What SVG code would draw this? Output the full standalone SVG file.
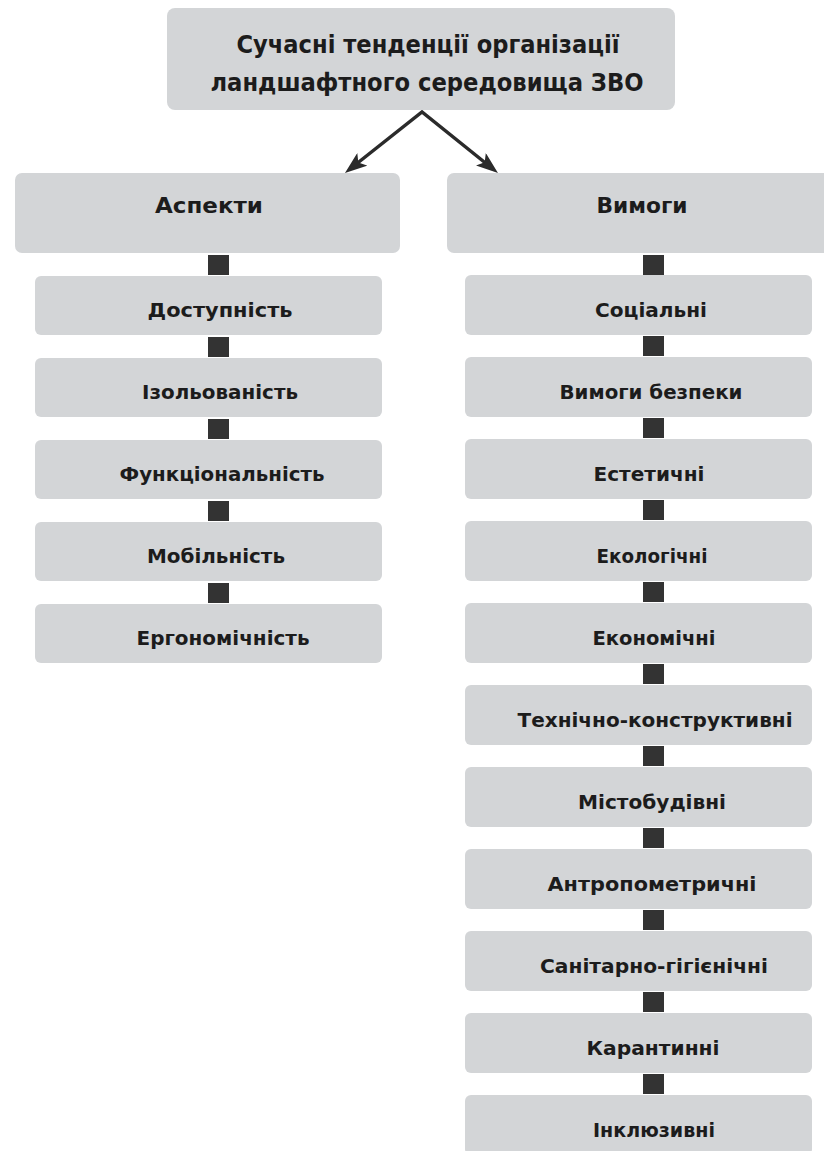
<svg xmlns="http://www.w3.org/2000/svg" width="824" height="1151" viewBox="0 0 824 1151">
<style>
.box{fill:#d3d5d7;}
.t{font-family:"DejaVu Sans","Liberation Sans",sans-serif;font-weight:bold;fill:#1c1c1c;text-anchor:middle;}
.top{font-size:24px;}
.hd{font-size:22px;}
.ch{font-size:19px;}
.sq{fill:#333333;}
.arrow{fill:none;stroke:#2b2b2b;stroke-width:3.5;stroke-linejoin:miter;}
</style>
<defs>
<marker id="ah" viewBox="0 0 22 16" refX="10" refY="8" markerWidth="22" markerHeight="16" orient="auto-start-reverse" markerUnits="userSpaceOnUse">
<path d="M0,0 L22,8 L0,16 L5,8 z" fill="#2b2b2b"/>
</marker>
</defs>
<rect width="824" height="1151" fill="#ffffff"/>

<g id="connectors">
<path class="arrow" d="M354.4,165.5 L422,112 L488.6,165.5" marker-start="url(#ah)" marker-end="url(#ah)"/>
<rect class="sq" x="208" y="255" width="21" height="20"/>
<rect class="sq" x="208" y="337" width="21" height="20"/>
<rect class="sq" x="208" y="419" width="21" height="20"/>
<rect class="sq" x="208" y="501" width="21" height="20"/>
<rect class="sq" x="208" y="583" width="21" height="20"/>
<rect class="sq" x="643" y="255" width="21" height="20"/>
<rect class="sq" x="643" y="336" width="21" height="20"/>
<rect class="sq" x="643" y="418" width="21" height="20"/>
<rect class="sq" x="643" y="500" width="21" height="20"/>
<rect class="sq" x="643" y="582" width="21" height="20"/>
<rect class="sq" x="643" y="664" width="21" height="20"/>
<rect class="sq" x="643" y="746" width="21" height="20"/>
<rect class="sq" x="643" y="828" width="21" height="20"/>
<rect class="sq" x="643" y="910" width="21" height="20"/>
<rect class="sq" x="643" y="992" width="21" height="20"/>
<rect class="sq" x="643" y="1074" width="21" height="20"/>
</g>

<g id="root">
<rect class="box" x="167" y="8" width="508" height="102" rx="8"/>
<text class="t top" x="428" y="53" textLength="383" lengthAdjust="spacingAndGlyphs">Сучасні тенденції організації</text>
<text class="t top" x="427" y="91" textLength="433" lengthAdjust="spacingAndGlyphs">ландшафтного середовища ЗВО</text>
</g>

<g id="aspekty">
<rect class="box" x="15" y="173" width="385" height="80" rx="7"/>
<text class="t hd" x="209" y="213" textLength="108" lengthAdjust="spacingAndGlyphs">Аспекти</text>
</g>
<g id="vymohy">
<rect class="box" x="447" y="173" width="390" height="80" rx="7"/>
<text class="t hd" x="642" y="213" textLength="91" lengthAdjust="spacingAndGlyphs">Вимоги</text>
</g>

<g id="dostupnist">
<rect class="box" x="35" y="276" width="347" height="59" rx="6"/>
<text class="t ch" x="220" y="317" textLength="145" lengthAdjust="spacingAndGlyphs">Доступність</text>
</g>
<g id="izolovanist">
<rect class="box" x="35" y="358" width="347" height="59" rx="6"/>
<text class="t ch" x="220" y="399" textLength="156" lengthAdjust="spacingAndGlyphs">Ізольованість</text>
</g>
<g id="funktsionalnist">
<rect class="box" x="35" y="440" width="347" height="59" rx="6"/>
<text class="t ch" x="222" y="481" textLength="205" lengthAdjust="spacingAndGlyphs">Функціональність</text>
</g>
<g id="mobilnist">
<rect class="box" x="35" y="522" width="347" height="59" rx="6"/>
<text class="t ch" x="216" y="563" textLength="138" lengthAdjust="spacingAndGlyphs">Мобільність</text>
</g>
<g id="erhonomichnist">
<rect class="box" x="35" y="604" width="347" height="59" rx="6"/>
<text class="t ch" x="223" y="645" textLength="173" lengthAdjust="spacingAndGlyphs">Ергономічність</text>
</g>

<g id="sotsialni">
<rect class="box" x="465" y="275" width="347" height="60" rx="6"/>
<text class="t ch" x="651" y="317" textLength="112" lengthAdjust="spacingAndGlyphs">Соціальні</text>
</g>
<g id="bezpeky">
<rect class="box" x="465" y="357" width="347" height="60" rx="6"/>
<text class="t ch" x="651" y="399" textLength="183" lengthAdjust="spacingAndGlyphs">Вимоги безпеки</text>
</g>
<g id="estetychni">
<rect class="box" x="465" y="439" width="347" height="60" rx="6"/>
<text class="t ch" x="649" y="481" textLength="111" lengthAdjust="spacingAndGlyphs">Естетичні</text>
</g>
<g id="ekolohichni">
<rect class="box" x="465" y="521" width="347" height="60" rx="6"/>
<text class="t ch" x="652" y="563" textLength="111" lengthAdjust="spacingAndGlyphs">Екологічні</text>
</g>
<g id="ekonomichni">
<rect class="box" x="465" y="603" width="347" height="60" rx="6"/>
<text class="t ch" x="654" y="645" textLength="123" lengthAdjust="spacingAndGlyphs">Економічні</text>
</g>
<g id="tekhnichno">
<rect class="box" x="465" y="685" width="347" height="60" rx="6"/>
<text class="t ch" x="655" y="727" textLength="275" lengthAdjust="spacingAndGlyphs">Технічно-конструктивні</text>
</g>
<g id="mistobudivni">
<rect class="box" x="465" y="767" width="347" height="60" rx="6"/>
<text class="t ch" x="652" y="809" textLength="148" lengthAdjust="spacingAndGlyphs">Містобудівні</text>
</g>
<g id="antropometrychni">
<rect class="box" x="465" y="849" width="347" height="60" rx="6"/>
<text class="t ch" x="652" y="891" textLength="209" lengthAdjust="spacingAndGlyphs">Антропометричні</text>
</g>
<g id="sanitarno">
<rect class="box" x="465" y="931" width="347" height="60" rx="6"/>
<text class="t ch" x="654" y="973" textLength="228" lengthAdjust="spacingAndGlyphs">Санітарно-гігієнічні</text>
</g>
<g id="karantynni">
<rect class="box" x="465" y="1013" width="347" height="60" rx="6"/>
<text class="t ch" x="653" y="1055" textLength="133" lengthAdjust="spacingAndGlyphs">Карантинні</text>
</g>
<g id="inkliuzyvni">
<rect class="box" x="465" y="1095" width="347" height="60" rx="6"/>
<text class="t ch" x="654" y="1137" textLength="122" lengthAdjust="spacingAndGlyphs">Інклюзивні</text>
</g>
</svg>
